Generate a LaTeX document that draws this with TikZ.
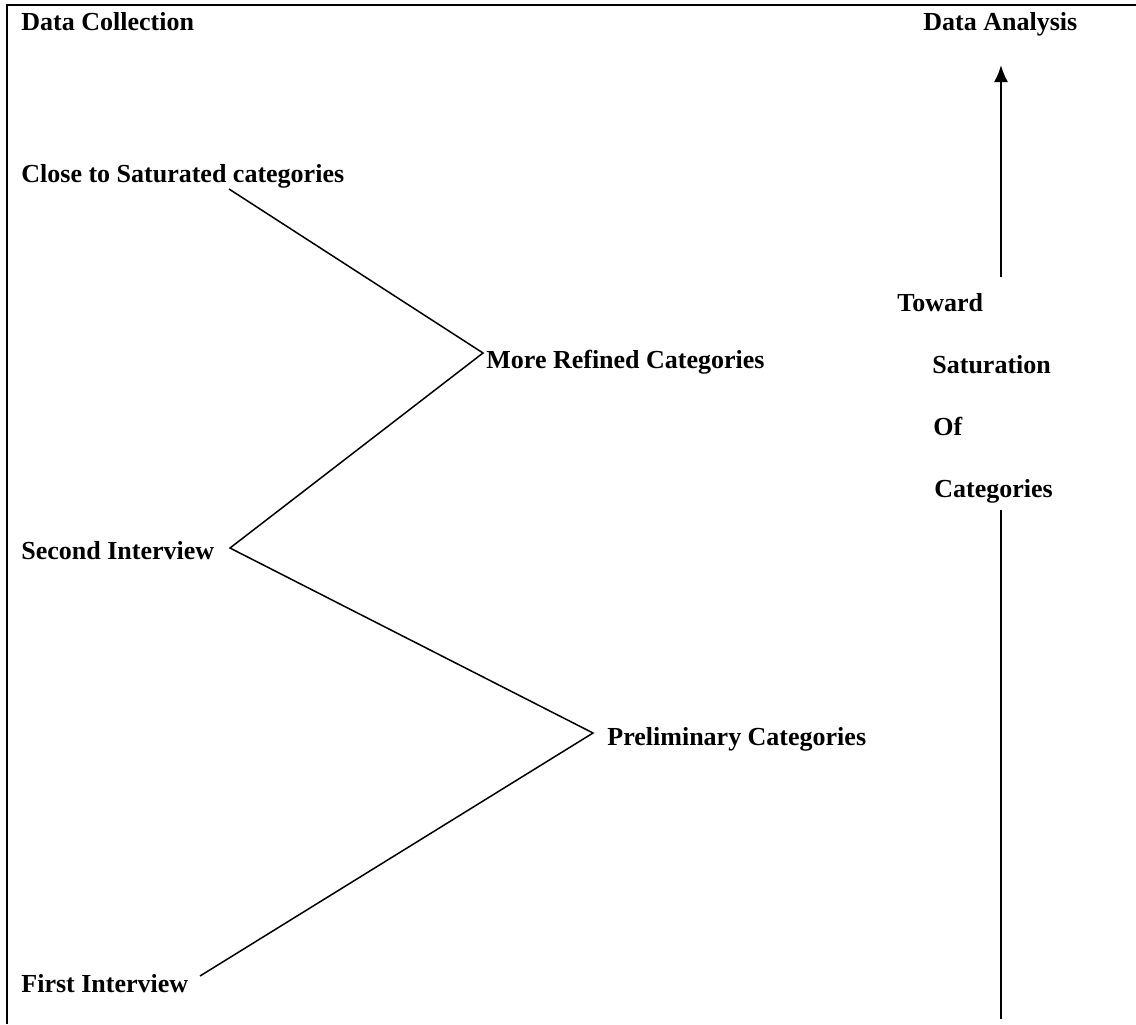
\documentclass[tikz,border=0pt]{standalone}
\usepackage{fontspec}
\setmainfont{Liberation Serif}
\usetikzlibrary{arrows.meta}

\begin{document}
\begin{tikzpicture}[x=0.5pt,y=-0.5pt,>={Latex[length=8.5pt,width=7pt]},
        lbl/.style={font=\bfseries\fontsize{13}{15}\selectfont,anchor=base west,inner sep=0pt},
        zig/.style={line width=0.75pt}]
            \useasboundingbox (0,0) rectangle (1136,1024);
            \draw[line width=1pt] (7,1024) -- (7,4.5) -- (1136,4.5);
            \node[lbl] (collect) at (21,30) {Data Collection};
            \node[lbl] (analysis) at (923,30) {Data Analysis};
            \node[lbl] (close) at (21,182) {Close to Saturated categories};
            \node[lbl] (refined) at (486,368) {More Refined Categories};
            \node[lbl] (second) at (21,559) {Second Interview};
            \node[lbl] (prelim) at (607,745) {Preliminary Categories};
            \node[lbl] (first) at (21,992) {First Interview};
            \foreach \n/\x/\y/\t in {toward/897/311/Toward,satur/932/373/Saturation,
                    of/933/435/Of,cats/934/497/Categories}
                \node[lbl] (\n) at (\x,\y) {\t};
            % zigzag
            \coordinate (z1) at (229,189);
            \coordinate (z2) at (483,353);
            \coordinate (z3) at (230,548);
            \coordinate (z4) at (593,733);
            \coordinate (z5) at (200,976);
            \draw[zig] (z1) -- (z2) -- (z3) -- (z4) -- (z5);
            % analysis axis
            \coordinate (up) at (1001,277);
            \coordinate (tip) at (1001,65);
            \coordinate (low) at (1001,510);
            \coordinate (base) at (1001,1019);
            \draw[->,line width=1pt] (up) -- (tip);
            \draw[line width=1pt] (low) -- (base);
        \end{tikzpicture}
\end{document}
